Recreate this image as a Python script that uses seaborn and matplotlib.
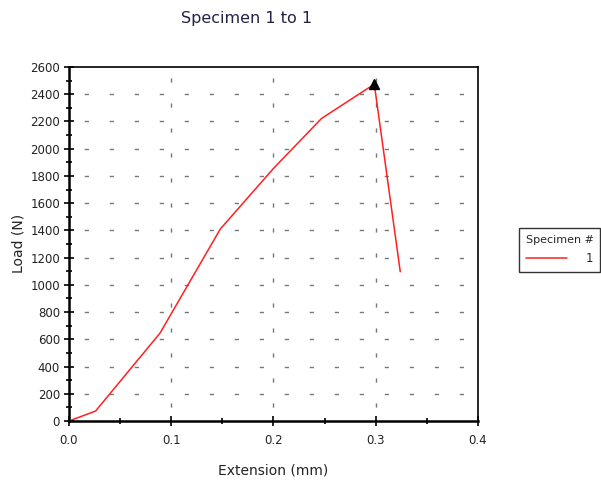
import numpy as np
import pandas as pd
import matplotlib
matplotlib.use("Agg")
import matplotlib.pyplot as plt
import seaborn as sns
from matplotlib.ticker import MultipleLocator

# ── Data ─────────────────────────────────────────────────────
extension = [0.0, 0.026, 0.089, 0.148, 0.200, 0.247, 0.2986, 0.324]
load = [0, 73, 645, 1410, 1855, 2222, 2474, 1096]
specimen = ["1"] * len(extension)

df = pd.DataFrame({"Extension": extension, "Load": load, "Specimen": specimen})

# ── Style ────────────────────────────────────────────────────
sns.set_theme(style="white")
plt.rcParams["font.family"] = ["DejaVu Sans"]

fig = plt.figure(figsize=(6.01, 4.82), dpi=100)
ax = fig.add_axes([0.1148, 0.1266, 0.6805, 0.7344])

sns.lineplot(data=df, x="Extension", y="Load", hue="Specimen",
             palette=["#ff2020"], sort=False, linewidth=1.1, ax=ax, legend=False)

# peak marker
ipk = int(np.argmax(load))
ax.plot([extension[ipk]], [load[ipk]], marker="^", color="black",
        markersize=6.5, linestyle="none", zorder=5)

ax.set_xlim(0, 0.4)
ax.set_ylim(0, 2600)
ax.xaxis.set_major_locator(MultipleLocator(0.1))
ax.xaxis.set_minor_locator(MultipleLocator(0.05))
ax.yaxis.set_major_locator(MultipleLocator(200))
ax.yaxis.set_minor_locator(MultipleLocator(100))
ax.xaxis.set_major_formatter(matplotlib.ticker.FormatStrFormatter("%.1f"))

ax.tick_params(axis="both", which="major", direction="inout", length=7,
               width=1.2, color="black", labelsize=8.5, labelcolor="#222222",
               bottom=True, left=True, pad=6)
ax.tick_params(axis="y", which="major", pad=3)
ax.tick_params(axis="both", which="minor", direction="inout", length=5,
               width=1.2, color="black", bottom=True, left=True)

# dashed grid
for yv in range(200, 2600, 200):
    ax.axhline(yv, color="#777777", linewidth=1.0, linestyle=(7, (3, 15)), zorder=0)
for xv in [0.1, 0.2, 0.3]:
    ax.axvline(xv, color="#777777", linewidth=1.0, linestyle=(8, (3, 15)), zorder=0)

for side in ["top", "right"]:
    ax.spines[side].set_linewidth(1.2)
    ax.spines[side].set_color("black")
for side in ["left", "bottom"]:
    ax.spines[side].set_linewidth(1.8)
    ax.spines[side].set_color("black")

ax.set_xlabel("Extension (mm)", fontsize=10, color="#222222", labelpad=12)
ax.set_ylabel("")
fig.text(18 / 601, 0.495, "Load (N)", rotation=90, ha="center", va="center",
         fontsize=10, color="#222222")

fig.text(0.41, 0.962, "Specimen 1 to 1", ha="center", va="center",
         fontsize=11.5, color="#222244")

# legend
handle = plt.Line2D([], [], color="#ff2020", linewidth=1.1)
leg = fig.legend([handle], ["1"], title="Specimen #", loc="upper left",
                 bbox_to_anchor=(0.864, 0.526), fontsize=8.5, title_fontsize=8,
                 frameon=True, fancybox=False, handlelength=3.4,
                 borderpad=0.55, handletextpad=1.6, borderaxespad=0,
                 labelspacing=0.6)
leg.get_frame().set_edgecolor("black")
leg.get_frame().set_linewidth(1.0)

fig.savefig("out.png", dpi=100)
